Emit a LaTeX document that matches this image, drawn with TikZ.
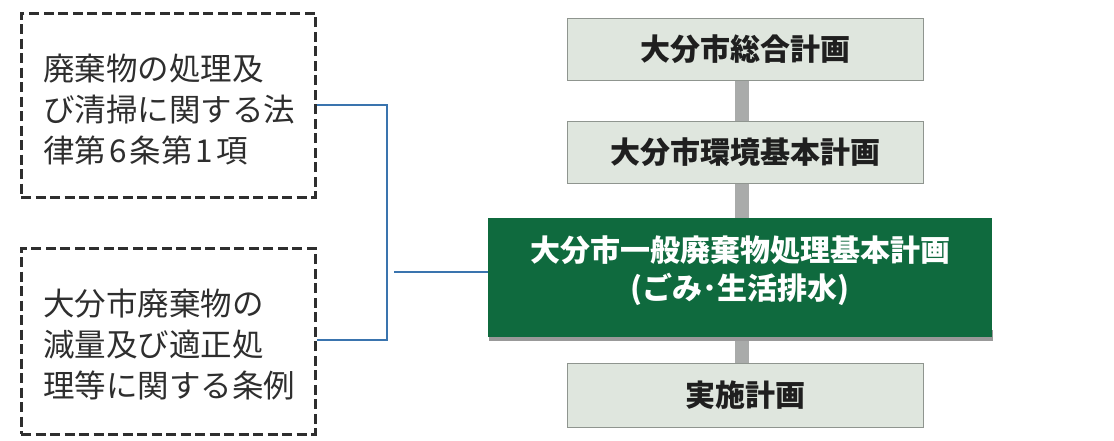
\documentclass[tikz,border=0pt]{standalone}
\usepackage{fontspec}
\newfontfamily\jp{Noto Sans CJK JP}
\definecolor{boxgreen}{HTML}{0F6A3E}
\definecolor{palebox}{HTML}{DFE6DE}
\definecolor{paleedge}{HTML}{8F958F}
\definecolor{linkblue}{HTML}{3A74AE}
\definecolor{dashgray}{HTML}{2E2E2E}
\definecolor{bargray}{HTML}{A9ABAA}
\begin{document}
\begin{tikzpicture}[x=1pt,y=-1pt,
  lawbox/.style={draw=dashgray, line width=3pt, dash pattern=on 10pt off 4.5pt,
    minimum width=294pt, inner sep=0pt},
  lawtext/.style={anchor=west, align=left, inner sep=0pt,
    font=\jp\fontsize{31.5}{41}\selectfont, text=black!82},
  planbox/.style={draw=paleedge, line width=0.6pt, fill=palebox,
    minimum width=356pt, minimum height=62pt, inner sep=0pt,
    font=\jp\bfseries\fontsize{30}{36}\selectfont, text=black!88},
  mainbox/.style={fill=boxgreen, minimum width=504pt, minimum height=119pt, inner sep=0pt},
  maintext/.style={align=center, inner sep=0pt,
    font=\jp\bfseries\fontsize{30}{38}\selectfont, text=white},
  link/.style={draw=linkblue, line width=1.4pt},
  bar/.style={draw=bargray, line width=14pt}]
\useasboundingbox (0,0) rectangle (1114,440);
% vertical bar behind plan boxes
\coordinate (bartop) at (742,80);
\coordinate (barbot) at (742,363);
\draw[bar] (bartop) -- (barbot);
% plan boxes
\node[planbox] (sogo) at (745,49) {大分市総合計画};
\node[planbox] (kankyo) at (745,152) {大分市環境基本計画};
\fill[black!40] (489,330) rectangle (993,341);
\node[mainbox] (main) at (740,277.5) {};
\node[maintext] (mainlbl) at (740,271) {大分市一般廃棄物処理基本計画\\(ごみ･生活排水)};
\node[planbox, minimum height=64pt] (jisshi) at (745,395) {実施計画};
% law boxes
\node[lawbox, minimum height=184pt] (law) at (168,105) {};
\node[lawtext] (lawlbl) at (43,110) {廃棄物の処理及\\び清掃に関する法\\律第\kern3pt 6\kern3pt 条第\kern3pt 1\kern3pt 項};
\node[lawbox, minimum height=186pt] (ordin) at (168,341) {};
\node[lawtext] (ordinlbl) at (43,344) {大分市廃棄物の\\減量及び適正処\\理等に関する条例};
% connectors
\coordinate (jtop) at (387,105);
\coordinate (jbot) at (387,340);
\coordinate (stub) at (394,272);
\draw[link] (law.east |- jtop) -- (jtop) -- (jbot) -- (ordin.east |- jbot);
\draw[link] (stub) -- (main.west |- stub);
\end{tikzpicture}
\end{document}
